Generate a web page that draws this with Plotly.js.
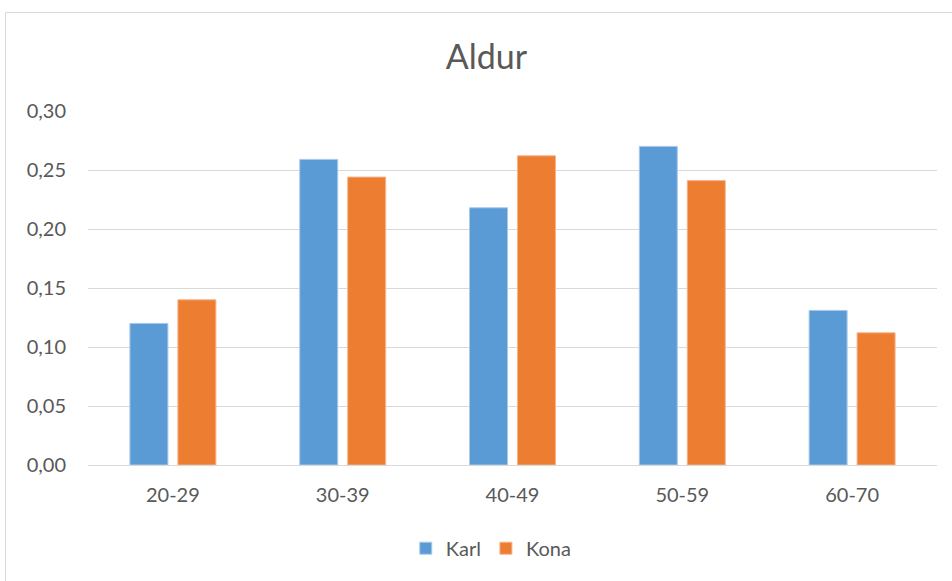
<!DOCTYPE html>
<html>
<head>
<meta charset="utf-8">
<script src="https://cdn.plot.ly/plotly-3.0.1.min.js"></script>
<style>
html,body{margin:0;padding:0;background:#fff;}
#chart{width:952px;height:581px;}
</style>
</head>
<body>
<div id="chart"></div>
<script>
const categories = ["20-29", "30-39", "40-49", "50-59", "60-70"];
const karl = [0.120, 0.259, 0.218, 0.270, 0.131];
const kona = [0.140, 0.244, 0.262, 0.241, 0.112];
const yTicks = [0, 0.05, 0.10, 0.15, 0.20, 0.25, 0.30];

const fontFam = "Lato, 'Open Sans', sans-serif";
const traces = [
  {type: "bar", name: "Karl", x: categories, y: karl,
   marker: {color: "#5b9bd5", line: {color: "#a9c8ea", width: 1}}},
  {type: "bar", name: "Kona", x: categories, y: kona,
   marker: {color: "#ed7d31", line: {color: "#f5b48a", width: 1}}}
];

const layout = {
  width: 952, height: 581,
  margin: {l: 88, r: 15, t: 111, b: 116},
  paper_bgcolor: "#ffffff", plot_bgcolor: "#ffffff",
  separators: ", ",
  barmode: "group", bargap: 0.435, bargroupgap: 0.208,
  title: {text: "Aldur", x: 0.511, xanchor: "center", y: 0.902, yanchor: "middle",
          font: {family: fontFam, size: 34, color: "#595959"}},
  font: {family: fontFam, color: "#595959", size: 20},
  xaxis: {showgrid: false, showline: true, linecolor: "#d9d9d9", linewidth: 1,
          ticks: "", tickfont: {size: 20, color: "#595959"}, fixedrange: true,
          ticklabelstandoff: 12},
  yaxis: {range: [0, 0.30], tickvals: yTicks, tickformat: ".2f",
          showgrid: true, gridcolor: "#d9d9d9", gridwidth: 1, zeroline: false,
          showline: false, ticks: "", tickfont: {size: 20, color: "#595959"},
          ticklabelstandoff: 21, fixedrange: true},
  legend: {orientation: "h", x: 0.475, xanchor: "center", y: -0.235, yanchor: "middle",
           font: {size: 20, color: "#595959"}, itemwidth: 30, traceorder: "normal"},
  showlegend: true,
  shapes: [{type: "rect", xref: "paper", yref: "paper",
            x0: (5.5 - 88) / 849, x1: (960 - 88) / 849,
            y0: (465 - 590) / 354, y1: (465 - 12.5) / 354,
            line: {color: "#d9d9d9", width: 1}, fillcolor: "rgba(0,0,0,0)", layer: "below"}]
};

Plotly.newPlot("chart", traces, layout, {displayModeBar: false, staticPlot: true});
</script>
</body>
</html>
